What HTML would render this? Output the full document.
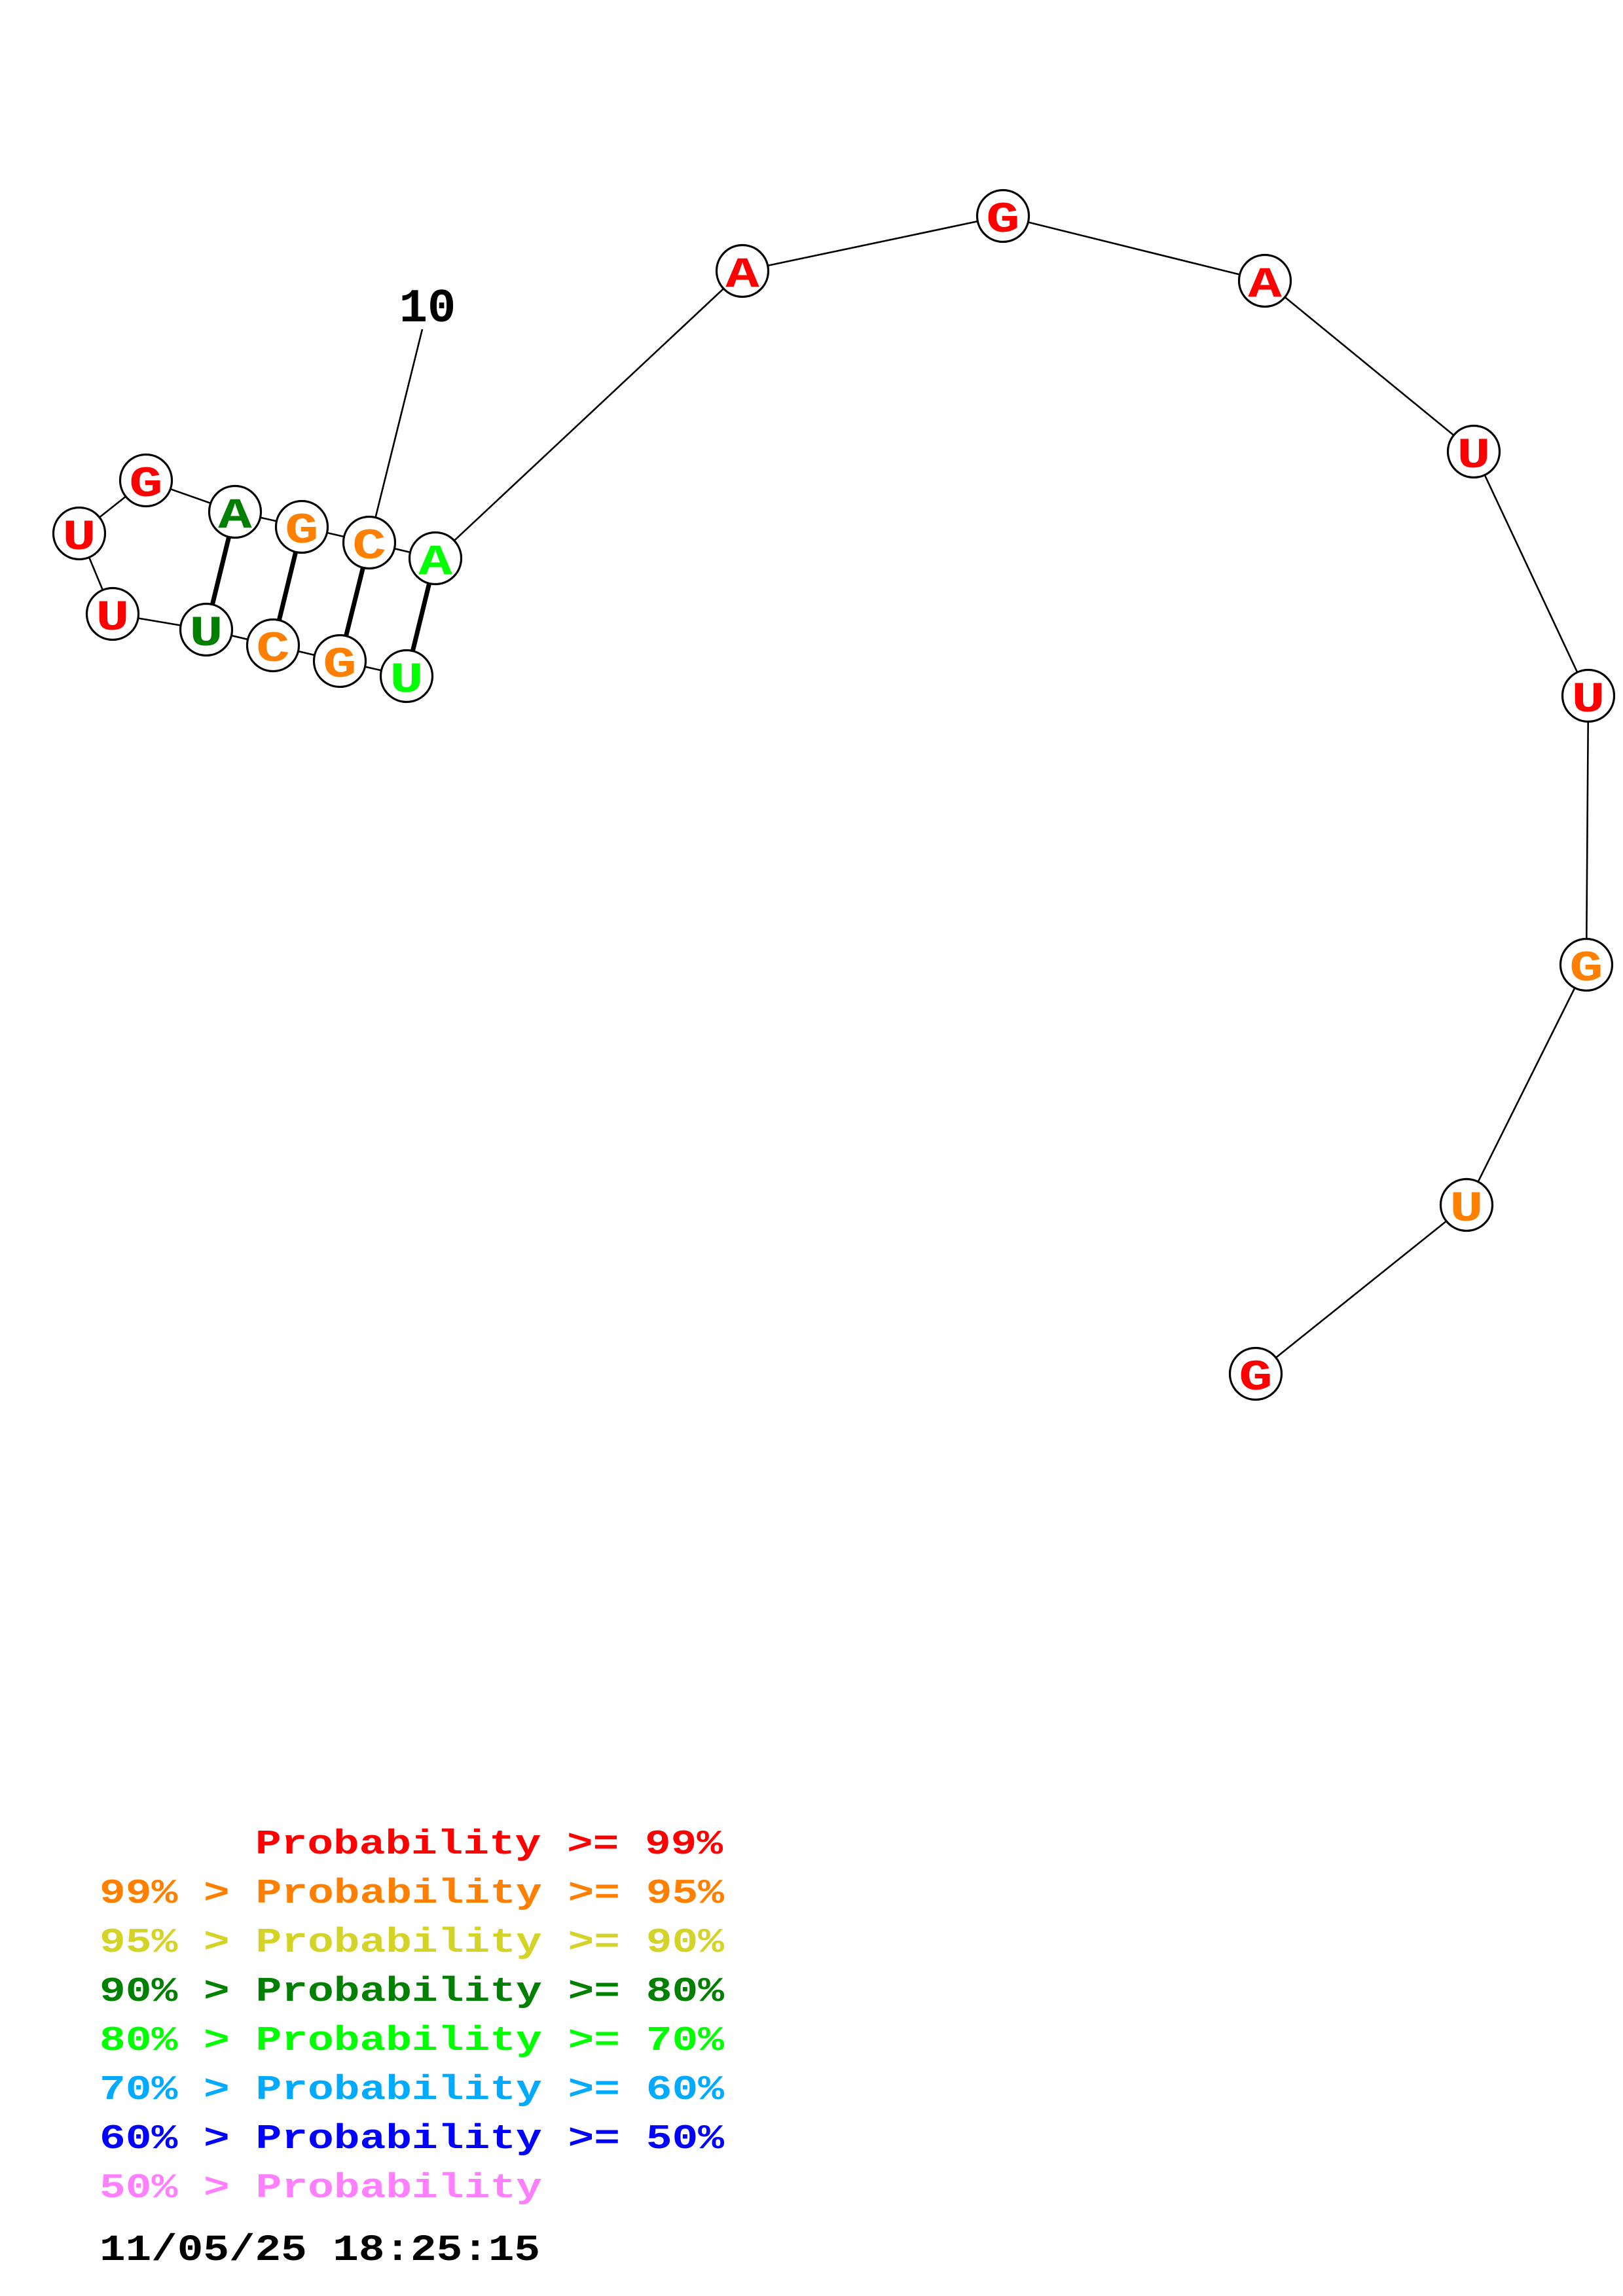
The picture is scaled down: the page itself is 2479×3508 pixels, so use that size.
<!DOCTYPE html>
<html>
<head>
<meta charset="utf-8">
<style>
  html, body { margin: 0; padding: 0; background: #ffffff; }
  body { width: 2479px; height: 3508px; overflow: hidden; }
  svg { display: block; }
  text { font-family: "Liberation Mono", "DejaVu Sans Mono", monospace; font-weight: bold; }
</style>
</head>
<body>
<svg width="2479" height="3508" viewBox="0 0 2479 3508" xmlns="http://www.w3.org/2000/svg">
  <rect x="0" y="0" width="2479" height="3508" fill="#ffffff"/>

  <!-- backbone -->
  <g stroke="#000" stroke-width="2.6" fill="none">
    <polyline points="1918,2099 2240,1841 2423,1474 2426,1063 2251,690 1932,429 1532,330 1134,414 665,853 564,829 461,805 359,782 223,734 121,815 172,938 315,962 417,986 519,1010 621,1033"/>
    <!-- label tick for 10 -->
    <line x1="645" y1="503" x2="564" y2="829"/>
  </g>

  <!-- base pairs -->
  <g stroke="#000" stroke-width="7" fill="none">
    <line x1="665" y1="853" x2="621" y2="1033"/>
    <line x1="564" y1="829" x2="519" y2="1010"/>
    <line x1="461" y1="805" x2="417" y2="986"/>
    <line x1="359" y1="782" x2="315" y2="962"/>
  </g>

  <!-- nodes -->
  <g stroke="#000" stroke-width="3.2" fill="#fff">
    <circle cx="1918" cy="2099" r="39.5"/>
    <circle cx="2240" cy="1841" r="39.5"/>
    <circle cx="2423" cy="1474" r="39.5"/>
    <circle cx="2426" cy="1063" r="39.5"/>
    <circle cx="2251" cy="690" r="39.5"/>
    <circle cx="1932" cy="429" r="39.5"/>
    <circle cx="1532" cy="330" r="39.5"/>
    <circle cx="1134" cy="414" r="39.5"/>
    <circle cx="665" cy="853" r="39.5"/>
    <circle cx="564" cy="829" r="39.5"/>
    <circle cx="461" cy="805" r="39.5"/>
    <circle cx="359" cy="782" r="39.5"/>
    <circle cx="223" cy="734" r="39.5"/>
    <circle cx="121" cy="815" r="39.5"/>
    <circle cx="172" cy="938" r="39.5"/>
    <circle cx="315" cy="962" r="39.5"/>
    <circle cx="417" cy="986" r="39.5"/>
    <circle cx="519" cy="1010" r="39.5"/>
    <circle cx="621" cy="1033" r="39.5"/>
  </g>

  <!-- node letters -->
  <g font-size="66" text-anchor="middle">
    <text transform="translate(1918 2099) scale(1.3 1)" x="0" y="24" fill="#ff0000">G</text>
    <text transform="translate(2240 1841) scale(1.3 1)" x="0" y="24" fill="#ff8000">U</text>
    <text transform="translate(2423 1474) scale(1.3 1)" x="0" y="24" fill="#ff8000">G</text>
    <text transform="translate(2426 1063) scale(1.3 1)" x="0" y="24" fill="#ff0000">U</text>
    <text transform="translate(2251 690) scale(1.3 1)" x="0" y="24" fill="#ff0000">U</text>
    <text transform="translate(1932 429) scale(1.3 1)" x="0" y="24" fill="#ff0000">A</text>
    <text transform="translate(1532 330) scale(1.3 1)" x="0" y="24" fill="#ff0000">G</text>
    <text transform="translate(1134 414) scale(1.3 1)" x="0" y="24" fill="#ff0000">A</text>
    <text transform="translate(665 853) scale(1.3 1)" x="0" y="24" fill="#00ff00">A</text>
    <text transform="translate(564 829) scale(1.3 1)" x="0" y="24" fill="#ff8000">C</text>
    <text transform="translate(461 805) scale(1.3 1)" x="0" y="24" fill="#ff8000">G</text>
    <text transform="translate(359 782) scale(1.3 1)" x="0" y="24" fill="#007f00">A</text>
    <text transform="translate(223 734) scale(1.3 1)" x="0" y="24" fill="#ff0000">G</text>
    <text transform="translate(121 815) scale(1.3 1)" x="0" y="24" fill="#ff0000">U</text>
    <text transform="translate(172 938) scale(1.3 1)" x="0" y="24" fill="#ff0000">U</text>
    <text transform="translate(315 962) scale(1.3 1)" x="0" y="24" fill="#007f00">U</text>
    <text transform="translate(417 986) scale(1.3 1)" x="0" y="24" fill="#ff8000">C</text>
    <text transform="translate(519 1010) scale(1.3 1)" x="0" y="24" fill="#ff8000">G</text>
    <text transform="translate(621 1033) scale(1.3 1)" x="0" y="24" fill="#00ff00">U</text>
  </g>

  <!-- position label -->
  <text x="653" y="491" font-size="72" text-anchor="middle" fill="#000">10</text>

  <!-- legend -->
  <g font-size="53">
    <text x="390" y="2832" fill="#ff0000" textLength="714" lengthAdjust="spacingAndGlyphs">Probability &gt;= 99%</text>
    <text x="152" y="2907" fill="#ff8000" textLength="954" lengthAdjust="spacingAndGlyphs">99% &gt; Probability &gt;= 95%</text>
    <text x="152" y="2982" fill="#d4d428" textLength="954" lengthAdjust="spacingAndGlyphs">95% &gt; Probability &gt;= 90%</text>
    <text x="152" y="3057" fill="#007f00" textLength="954" lengthAdjust="spacingAndGlyphs">90% &gt; Probability &gt;= 80%</text>
    <text x="152" y="3132" fill="#00ff00" textLength="954" lengthAdjust="spacingAndGlyphs">80% &gt; Probability &gt;= 70%</text>
    <text x="152" y="3207" fill="#00aaff" textLength="954" lengthAdjust="spacingAndGlyphs">70% &gt; Probability &gt;= 60%</text>
    <text x="152" y="3282" fill="#0000ff" textLength="954" lengthAdjust="spacingAndGlyphs">60% &gt; Probability &gt;= 50%</text>
    <text x="152" y="3357" fill="#ff80ff" textLength="676" lengthAdjust="spacingAndGlyphs">50% &gt; Probability</text>
  </g>
  <text x="152" y="3453" font-size="57" fill="#000" textLength="673" lengthAdjust="spacingAndGlyphs">11/05/25 18:25:15</text>
</svg>
</body>
</html>
